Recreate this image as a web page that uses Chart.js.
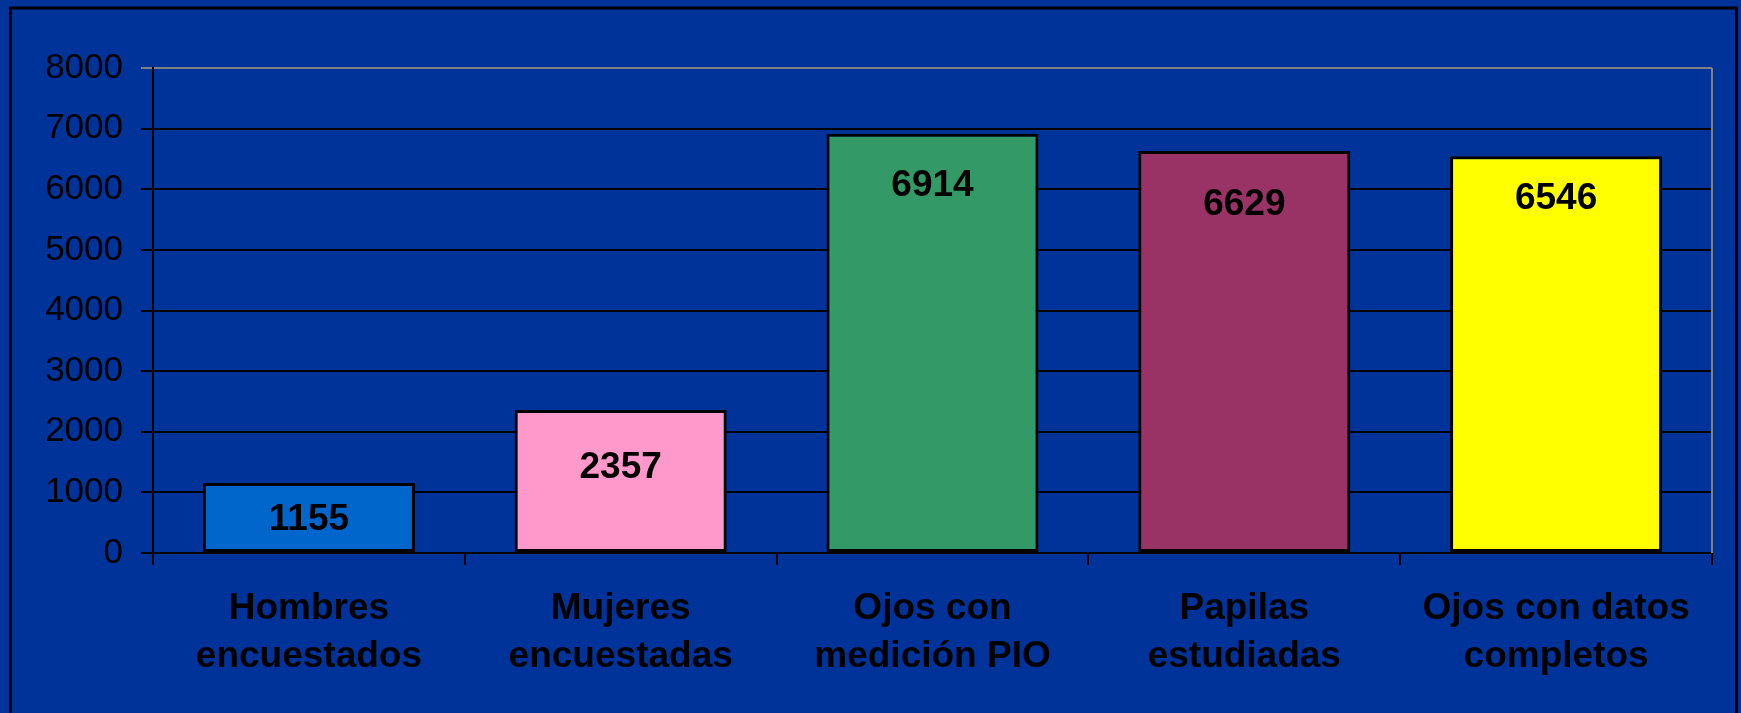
<!DOCTYPE html>
<html lang="es">
<head>
<meta charset="utf-8">
<title>Participantes del estudio</title>
<script src="https://cdn.jsdelivr.net/npm/chart.js@4/dist/chart.umd.min.js"></script>
<style>
  html, body { margin: 0; padding: 0; background: #003399; }
  #wrap { width: 1741px; height: 713px; }
</style>
</head>
<body>
<div id="wrap"><canvas id="grafico" width="1741" height="713"></canvas></div>
<script>
const categorias = [
  ['Hombres', 'encuestados'],
  ['Mujeres', 'encuestadas'],
  ['Ojos con', 'medición PIO'],
  ['Papilas', 'estudiadas'],
  ['Ojos con datos', 'completos']
];
const valores = [1155, 2357, 6914, 6629, 6546];
const coloresBarras = ['#0066CC', '#FF99CC', '#339966', '#993366', '#FFFF00'];
const ejeYMin = 0;
const ejeYMax = 8000;
const ejeYPaso = 1000;

const FUENTE = 'Arial, "Liberation Sans", sans-serif';
// distancia (px) desde el borde superior de cada barra al centro de su etiqueta
const desplazamientoEtiquetas = [37, 58, 52, 54, 43];

const fondoYMarco = {
  id: 'fondoYMarco',
  beforeDraw(chart) {
    const ctx = chart.ctx;
    ctx.save();
    ctx.fillStyle = '#003399';
    ctx.fillRect(0, 0, chart.width, chart.height);
    ctx.strokeStyle = '#000000';
    ctx.lineWidth = 3;
    ctx.strokeRect(10.5, 8, 1726, chart.height + 20);
    ctx.restore();
  },
  afterDraw(chart) {
    const { ctx, chartArea } = chart;
    ctx.save();
    ctx.strokeStyle = '#808080';
    ctx.lineWidth = 2;
    ctx.beginPath();
    ctx.moveTo(chartArea.right, chartArea.top);
    ctx.lineTo(chartArea.right, chartArea.bottom);
    ctx.stroke();
    ctx.restore();
  }
};

const etiquetasValores = {
  id: 'etiquetasValores',
  afterDatasetsDraw(chart) {
    const ctx = chart.ctx;
    const meta = chart.getDatasetMeta(0);
    ctx.save();
    ctx.font = 'bold 37px ' + FUENTE;
    ctx.fillStyle = '#000000';
    ctx.textAlign = 'center';
    ctx.textBaseline = 'middle';
    meta.data.forEach((barra, i) => {
      ctx.fillText(String(valores[i]), barra.x, barra.y + desplazamientoEtiquetas[i]);
    });
    ctx.restore();
  }
};

new Chart(document.getElementById('grafico'), {
  type: 'bar',
  data: {
    labels: categorias,
    datasets: [{
      data: valores,
      backgroundColor: coloresBarras,
      borderColor: '#000000',
      borderWidth: 3,
      borderSkipped: false,
      barPercentage: 0.68,
      categoryPercentage: 1
    }]
  },
  options: {
    responsive: false,
    animation: false,
    events: [],
    layout: {
      padding: { top: 68, right: 29, bottom: 0, left: 0 }
    },
    scales: {
      x: {
        afterFit(scale) { scale.height = 160; },
        grid: {
          offset: true,
          drawOnChartArea: false,
          drawTicks: true,
          tickLength: 12,
          color: '#000000',
          lineWidth: 2
        },
        border: { display: true, color: '#000000', width: 2 },
        ticks: {
          color: '#000000',
          padding: 20,
          maxRotation: 0,
          autoSkip: false,
          font: { family: FUENTE, size: 37, weight: 'bold', lineHeight: 1.3 }
        }
      },
      y: {
        min: ejeYMin,
        max: ejeYMax,
        afterFit(scale) { scale.width = 153; },
        grid: {
          drawTicks: true,
          tickLength: 12,
          color: (c) => (c.tick && c.tick.value === ejeYMax ? '#808080' : '#000000'),
          lineWidth: 2
        },
        border: { display: true, color: '#000000', width: 2 },
        ticks: {
          stepSize: ejeYPaso,
          color: '#000000',
          padding: 18,
          font: { family: FUENTE, size: 35 },
          callback: (valor) => String(valor)
        }
      }
    },
    plugins: {
      legend: { display: false },
      tooltip: { enabled: false }
    }
  },
  plugins: [fondoYMarco, etiquetasValores]
});
</script>
</body>
</html>
